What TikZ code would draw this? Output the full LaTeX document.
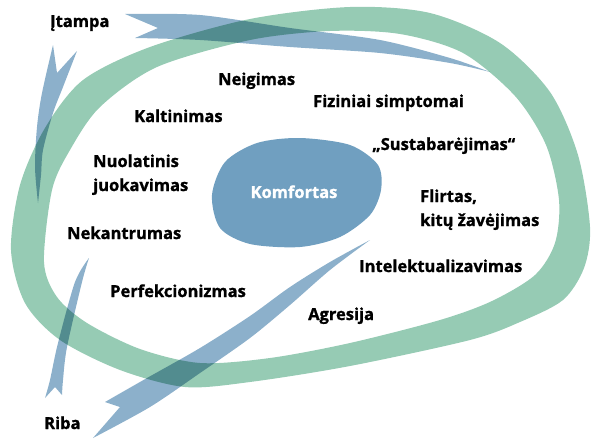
\documentclass[tikz,border=0pt]{standalone}
\usepackage{fontspec}
\setmainfont{Open Sans}[BoldFeatures={FakeBold=1.2}]
\definecolor{ringgreen}{RGB}{150,203,180}
\definecolor{arrowblue}{RGB}{140,176,203}
\definecolor{blobblue}{RGB}{112,159,192}
\begin{document}
\begin{tikzpicture}[x=1pt,y=-1pt,
  lbl/.style={font=\fontsize{16.5}{20}\selectfont\bfseries, inner sep=0pt, anchor=base west, text=black},
  arrowshape/.style={fill=arrowblue, blend mode=multiply}]
\useasboundingbox (0,0) rectangle (591,439);
% green ring
\fill[ringgreen, even odd rule]
  plot[smooth cycle] coordinates {(11,250)(20,185)(45,128)(83,80)(150,47)(250,19)(350,7)(430,13)(500,43)(550,92)(578,155)(590,227)(584,268)(563,300)(520,322)(470,340)(350,366)(250,382)(185,387)(120,370)(60,340)(25,303)}
  plot[smooth cycle] coordinates {(44,262)(52,190)(70,150)(100,107)(157,67)(250,40)(330,31)(400,34)(463,53)(515,96)(546,145)(559,200)(555,243)(535,275)(492,301)(440,320)(350,343)(270,358)(200,363)(140,349)(87,323)(57,297)};
% blue arrows
\fill[arrowshape] plot[smooth] coordinates {(125,14)(200,15)(290,28)(380,40)(450,58)(490,72)}
  -- plot[smooth] coordinates {(490,72)(450,63)(380,53)(290,47)(200,40)(135,38)} -- (158,28) -- cycle;
\fill[arrowshape] plot[smooth] coordinates {(53,45)(42,93)(37,127)(35,167)(38,203)}
  -- plot[smooth] coordinates {(38,203)(41,175)(43,150)(53,113)(63,87)(77,51)} -- (57,73) -- cycle;
\fill[arrowshape] plot[smooth] coordinates {(89,258)(75,282)(58,343)(50,380)(45,398)}
  -- (55,387) -- plot[smooth] coordinates {(62,395)(63,380)(67,347)(82,282)(89,258)} -- cycle;
\fill[arrowshape] plot[smooth] coordinates {(105,402)(147,378)(200,348)(250,316)(290,287)(330,262)(370,240)}
  -- plot[smooth] coordinates {(370,240)(330,270)(290,305)(250,338)(200,373)(150,407)(93,438)} -- (120,407) -- cycle;
% comfort blob
\fill[blobblue] plot[smooth cycle] coordinates {(300,138)(350,145)(378,165)(381,190)(370,215)(340,237)(300,247)(250,244)(220,228)(212,195)(225,162)(257,143)};
\node[lbl, anchor=base, text=white] (komf) at (294,198) {Komfortas};
% labels
\node[lbl] (itampa) at (50,27) {Įtampa};
\node[lbl] (neig) at (218,85) {Neigimas};
\node[lbl] (kalt) at (134,122) {Kaltinimas};
\node[lbl] (nuol1) at (93,167) {Nuolatinis};
\node[lbl] (nuol2) at (93,191) {juokavimas};
\node[lbl] (fiz) at (313,107) {Fiziniai simptomai};
\node[lbl] (sust) at (372,150) {„Sustabarėjimas“};
\node[lbl] (flirt1) at (420,202) {Flirtas,};
\node[lbl] (flirt2) at (420,226) {kitų žavėjimas};
\node[lbl] (nekan) at (67,239) {Nekantrumas};
\node[lbl] (perf) at (110,297) {Perfekcionizmas};
\node[lbl] (intel) at (359,272) {Intelektualizavimas};
\node[lbl] (agr) at (308,320) {Agresija};
\node[lbl] (riba) at (44,429) {Riba};
\end{tikzpicture}
\end{document}
